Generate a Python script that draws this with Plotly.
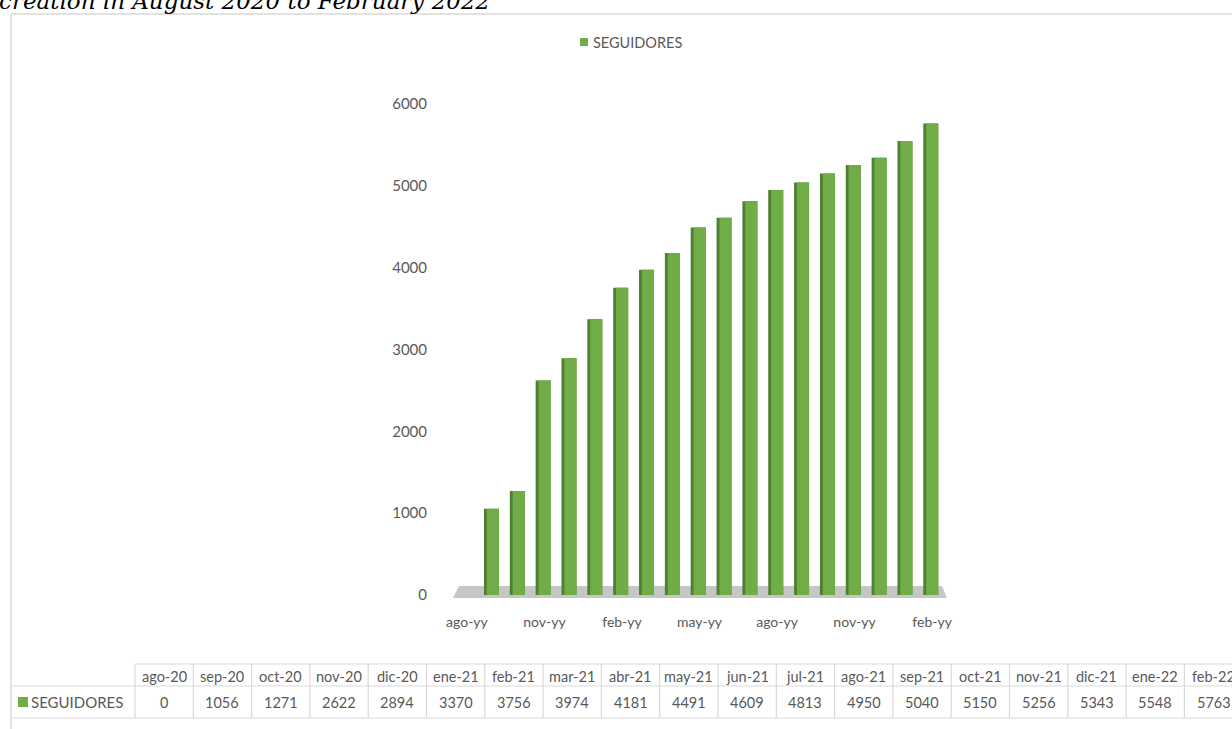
import plotly.graph_objects as go

# ---- data ----
months = ["ago-20", "sep-20", "oct-20", "nov-20", "dic-20", "ene-21", "feb-21", "mar-21",
          "abr-21", "may-21", "jun-21", "jul-21", "ago-21", "sep-21", "oct-21", "nov-21",
          "dic-21", "ene-22", "feb-22"]
seguidores = [0, 1056, 1271, 2622, 2894, 3370, 3756, 3974, 4181, 4491, 4609, 4813,
              4950, 5040, 5150, 5256, 5343, 5548, 5763]
axis_labels = ["ago-yy", "nov-yy", "feb-yy", "may-yy", "ago-yy", "nov-yy", "feb-yy"]
y_ticks = [0, 1000, 2000, 3000, 4000, 5000, 6000]
series_name = "SEGUIDORES"
title_text = "creation in August 2020 to February 2022"

# ---- layout geometry (pixels) ----
W, H = 1232, 729
L, R, T, B = 454, 945, 104, 600  # plot area edges
PW, PH = R - L, B - T


def px(x):
    return (x - L) / PW


def py(y):
    return (B - y) / PH


GREEN = "#70AD47"
DARK = "#4F7F30"
GRID = "#D9D9D9"
TXT = "#595959"
FONT = "Lato"

fig = go.Figure()
# darker side face of the 3D columns
fig.add_trace(go.Bar(x=months, y=seguidores, width=0.58, offset=-0.34,
                     marker=dict(color=DARK, line=dict(width=0)),
                     showlegend=False, hoverinfo="skip"))
# front face
fig.add_trace(go.Bar(x=months, y=seguidores, width=0.47, offset=-0.23, name=series_name,
                     marker=dict(color=GREEN, line=dict(width=0)), showlegend=False))

shapes = []
# floor of the 3D chart
shapes.append(dict(type="path", xref="paper", yref="paper", layer="below",
                   path=f"M {px(453)} {py(598)} L {px(459)} {py(586)} L {px(942)} {py(586)} "
                        f"L {px(947)} {py(598)} Z",
                   fillcolor="#C6C6C6", line=dict(width=0)))
# chart border (top and left)
shapes.append(dict(type="line", xref="paper", yref="paper", x0=px(11), x1=px(1240),
                   y0=py(14), y1=py(14), line=dict(color=GRID, width=1.5)))
shapes.append(dict(type="line", xref="paper", yref="paper", x0=px(11), x1=px(11),
                   y0=py(14), y1=py(740), line=dict(color=GRID, width=1.5)))
# legend key at top
shapes.append(dict(type="rect", xref="paper", yref="paper", x0=px(580), x1=px(588),
                   y0=py(46), y1=py(38), fillcolor=GREEN, line=dict(width=0)))

# data table
col0 = 135
cw = 58.3
row_top, row_mid, row_bot = 664, 686, 718
shapes.append(dict(type="line", xref="paper", yref="paper", x0=px(col0), x1=px(1300),
                   y0=py(row_top), y1=py(row_top), line=dict(color=GRID, width=1.2)))
for yy in (row_mid, row_bot):
    shapes.append(dict(type="line", xref="paper", yref="paper", x0=px(11), x1=px(1300),
                       y0=py(yy), y1=py(yy), line=dict(color=GRID, width=1.2)))
for k in range(len(months) + 1):
    xx = col0 + k * cw
    shapes.append(dict(type="line", xref="paper", yref="paper", x0=px(xx), x1=px(xx),
                       y0=py(row_top), y1=py(row_bot), line=dict(color=GRID, width=1.2)))
# legend key in table
shapes.append(dict(type="rect", xref="paper", yref="paper", x0=px(18), x1=px(28),
                   y0=py(707), y1=py(697), fillcolor=GREEN, line=dict(width=0)))

annotations = []
for k, (m, v) in enumerate(zip(months, seguidores)):
    cx = col0 + (k + 0.5) * cw
    annotations.append(dict(text=m, x=px(cx), y=py(676), xref="paper", yref="paper",
                            showarrow=False, xanchor="center", yanchor="middle",
                            font=dict(family=FONT, size=14.5, color=TXT)))
    annotations.append(dict(text=str(v), x=px(cx), y=py(702), xref="paper", yref="paper",
                            showarrow=False, xanchor="center", yanchor="middle",
                            font=dict(family=FONT, size=14.5, color=TXT)))
annotations.append(dict(text=series_name, x=px(29), y=py(702), xref="paper", yref="paper",
                        showarrow=False, xanchor="left", yanchor="middle",
                        font=dict(family=FONT, size=15, color=TXT)))
# legend text at top
annotations.append(dict(text=series_name, x=px(591), y=py(42), xref="paper", yref="paper",
                        showarrow=False, xanchor="left", yanchor="middle",
                        font=dict(family=FONT, size=14.5, color=TXT)))
# cut-off title at top
annotations.append(dict(text=f"<i>{title_text}</i>", x=px(-3), y=py(1), xref="paper",
                        yref="paper", showarrow=False, xanchor="left", yanchor="middle",
                        font=dict(family="DejaVu Serif", size=23, color="#000000")))

fig.update_layout(
    width=W, height=H,
    margin=dict(l=L, r=W - R, t=T, b=H - B, pad=0),
    paper_bgcolor="white", plot_bgcolor="white",
    barmode="overlay",
    showlegend=False,
    xaxis=dict(type="category", range=[-0.5, len(months) - 0.5],
               tickmode="array", tickvals=months[::3], ticktext=axis_labels,
               showgrid=False, showline=False, zeroline=False, ticks="",
               tickfont=dict(family=FONT, size=14, color=TXT), ticklabelstandoff=12),
    yaxis=dict(range=[-60, 6000], tickmode="array", tickvals=y_ticks,
               showgrid=False, showline=False, zeroline=False, ticks="",
               tickfont=dict(family=FONT, size=15, color=TXT), ticklabelstandoff=26),
    shapes=shapes,
    annotations=annotations,
    font=dict(family=FONT),
)

fig.write_html("out.html", config={"displayModeBar": False},
               post_script="document.body.style.margin='0';document.body.style.padding='0';")
